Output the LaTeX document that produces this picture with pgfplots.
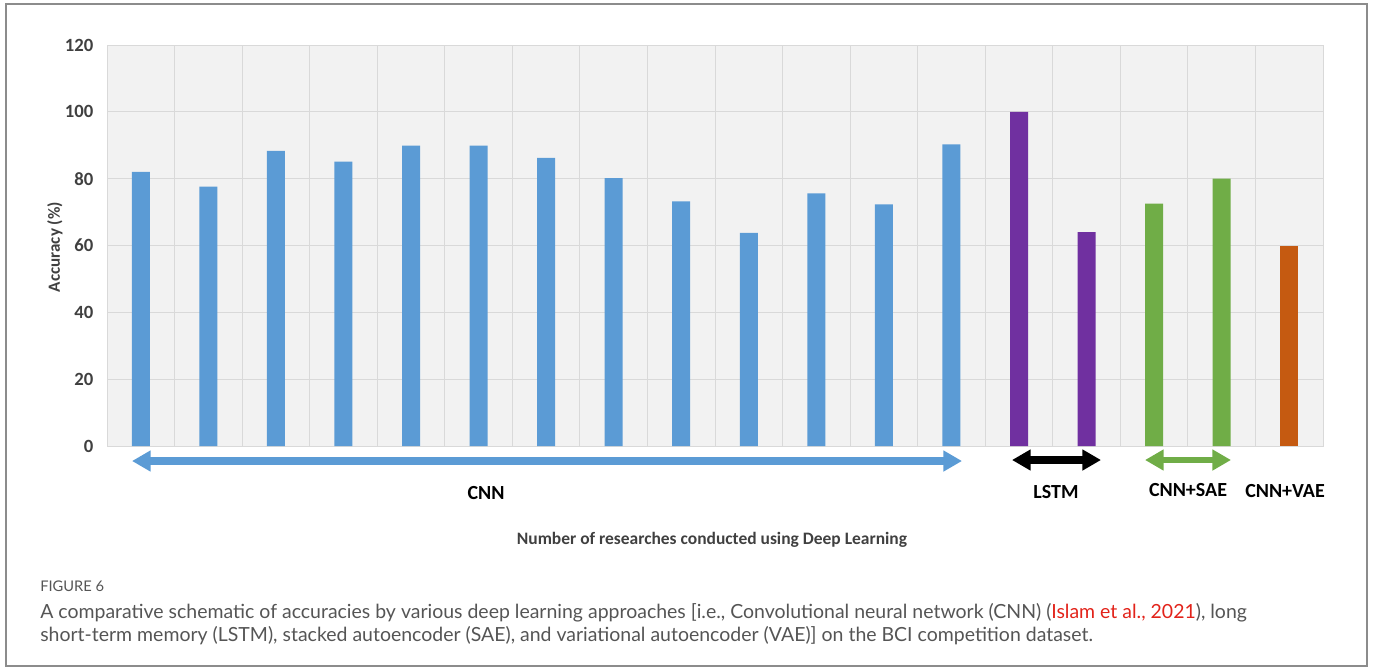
\documentclass[border=0pt]{standalone}
\usepackage{pgfplots}
\pgfplotsset{compat=1.18}
\usepackage{fontspec}
\setmainfont{Carlito}
\newfontfamily\capfont{Lato}
\usetikzlibrary{arrows.meta}

\definecolor{cnnblue}{HTML}{5B9BD5}
\definecolor{lstmpurple}{HTML}{7030A0}
\definecolor{saegreen}{HTML}{70AD47}
\definecolor{vaeorange}{HTML}{C55A11}
\definecolor{bggray}{HTML}{F2F2F2}
\definecolor{gridgray}{HTML}{D9D9D9}
\definecolor{labelgray}{HTML}{404040}
\definecolor{capgray}{HTML}{555555}
\definecolor{citered}{HTML}{E2231A}
\definecolor{framegray}{HTML}{8C8C8C}

\begin{document}
\begin{tikzpicture}
% picture in pixel units: 1px = 0.75pt, y downwards
\begin{scope}[x=0.75pt,y=-0.75pt]
  \path (0,0) rectangle (1373,669);
  \draw[framegray, line width=1.5pt] (6,4) rectangle (1367,666);
\end{scope}

\begin{axis}[
    at={(80.25pt,-334.5pt)}, anchor=south west,
    scale only axis,
    width=912pt, height=300.75pt,
    xmin=0.5, xmax=18.5,
    ymin=0, ymax=120,
    xtick={1.5,2.5,...,17.5},
    xticklabels={},
    ytick={0,20,...,120},
    major tick length=0pt,
    grid=major,
    grid style={draw=gridgray, line width=0.75pt},
    axis line style={draw=gridgray, line width=0.75pt},
    axis background/.style={fill=bggray},
    /pgf/number format/assume math mode=true,
    yticklabel style={font=\bfseries\fontsize{14}{16}\selectfont, text=labelgray, xshift=-6.75pt},
    clip=false,
]
% CNN
\addplot[ybar, bar width=13.5pt, fill=cnnblue, draw=none] coordinates {
    (1,82.0) (2,77.6) (3,88.3) (4,85.1) (5,89.9) (6,89.9) (7,86.2)
    (8,80.2) (9,73.2) (10,63.8) (11,75.6) (12,72.3) (13,90.3)
};
% LSTM
\addplot[ybar, bar width=13.5pt, fill=lstmpurple, draw=none] coordinates {
    (14,100) (15,64)
};
% CNN+SAE
\addplot[ybar, bar width=13.5pt, fill=saegreen, draw=none] coordinates {
    (16,72.5) (17,80)
};
% CNN+VAE
\addplot[ybar, bar width=13.5pt, fill=vaeorange, draw=none] coordinates {
    (18,60)
};
\end{axis}

\begin{scope}[x=0.75pt,y=-0.75pt]
  % group arrows
  \draw[cnnblue, line width=6pt, {Triangle[length=14pt,width=15pt]}-{Triangle[length=14pt,width=15pt]}] (132,461) -- (962,461);
  \draw[black, line width=6pt, {Triangle[length=14pt,width=15pt]}-{Triangle[length=14pt,width=15pt]}] (1012,460) -- (1101,460);
  \draw[saegreen, line width=4pt, {Triangle[length=14pt,width=15pt]}-{Triangle[length=14pt,width=15pt]}] (1145,460) -- (1231,460);
  % group names
  \begin{scope}[font=\bfseries\fontsize{15}{17}\selectfont]
    \node at (486,493) {CNN};
    \node at (1056,492) {LSTM};
    \node at (1188,490) {CNN+SAE};
    \node at (1285,491) {CNN+VAE};
  \end{scope}
  % axis titles
  \node[rotate=90, text=labelgray, font=\bfseries\fontsize{12.8}{14}\selectfont] at (55,247) {Accuracy (\%)};
  \node[text=labelgray, font=\bfseries\fontsize{13.1}{15}\selectfont] at (712,540) {Number of researches conducted using Deep Learning};
  % caption
  \node[anchor=west, inner sep=0pt, text=capgray, font=\capfont\fontsize{11}{13}\selectfont] at (40,586) {FIGURE 6};
  \node[anchor=west, inner sep=0pt, text=capgray, font=\capfont\fontsize{14.6}{17}\selectfont] at (40,613)
    {A comparative schematic of accuracies by various deep learning approaches [i.e., Convolutional neural network (CNN) (\textcolor{citered}{Islam et al., 2021}), long};
  \node[anchor=west, inner sep=0pt, text=capgray, font=\capfont\fontsize{14.6}{17}\selectfont] at (40,636)
    {short-term memory (LSTM), stacked autoencoder (SAE), and variational autoencoder (VAE)] on the BCI competition dataset.};
\end{scope}
\end{tikzpicture}
\end{document}
